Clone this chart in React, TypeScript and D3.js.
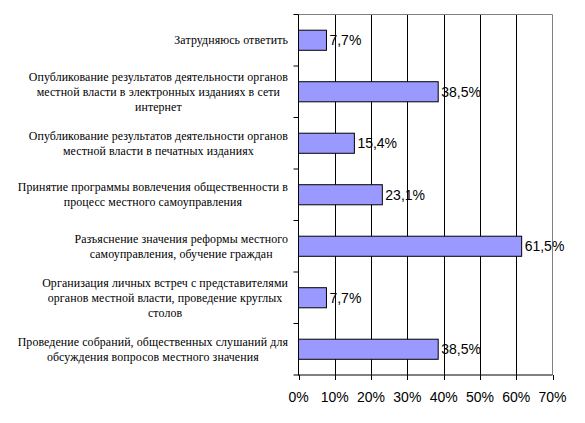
import React, { useEffect, useRef } from "react";
import * as d3 from "d3";

const categories: string[][] = [
  ["Затрудняюсь ответить"],
  ["Опубликование результатов деятельности органов", "местной власти в электронных изданиях в сети", "интернет"],
  ["Опубликование результатов деятельности органов", "местной власти в печатных изданиях"],
  ["Принятие программы вовлечения общественности в", "процесс местного самоуправления"],
  ["Разъяснение значения реформы местного", "самоуправления, обучение граждан"],
  ["Организация личных встреч с представителями", "органов местной власти, проведение круглых", "столов"],
  ["Проведение собраний, общественных слушаний для", "обсуждения вопросов местного значения"],
];
const values: number[] = [7.7, 38.5, 15.4, 23.1, 61.5, 7.7, 38.5];
const ticks: number[] = [0, 10, 20, 30, 40, 50, 60, 70];

const W = 585, H = 423;
const L = 298.5, R = 552.5, T = 14.5, B = 375;

export default function App() {
  const ref = useRef<SVGSVGElement>(null);
  useEffect(() => {
    const svg = d3.select(ref.current);
    svg.selectAll("*").remove();
    const x = d3.scaleLinear().domain([0, 70]).range([L, R]);
    const idx = categories.map((_, i) => i);
    const y = d3.scaleBand<number>().domain(idx).range([T, B]).paddingInner(0.61).paddingOuter(0.305);
    const step = y.step();

    svg.append("rect").attr("width", W).attr("height", H).attr("fill", "#fff");

    svg.selectAll("line.grid").data(ticks.filter(t => t > 0 && t < 70)).join("line")
      .attr("x1", d => Math.round(x(d)) + 0.5).attr("x2", d => Math.round(x(d)) + 0.5)
      .attr("y1", T).attr("y2", B).attr("stroke", "#000");
    svg.append("path").attr("d", `M${L},${T}H${R}V${B}`).attr("fill", "none").attr("stroke", "#808080");

    svg.selectAll("rect.bar").data(values).join("rect")
      .attr("x", x(0)).attr("y", (_, i) => y(i)!)
      .attr("width", d => x(d) - x(0)).attr("height", y.bandwidth())
      .attr("fill", "#9999FF").attr("stroke", "#000").attr("stroke-width", 1);

    svg.selectAll("text.val").data(values).join("text")
      .attr("x", d => x(d) + 3).attr("y", (_, i) => y(i)! + y.bandwidth() / 2)
      .attr("dy", "0.36em")
      .style("font-family", "'Liberation Sans', Arial, sans-serif").style("font-size", "14px")
      .text(d => d.toFixed(1).replace(".", ",") + "%");

    svg.append("line").attr("x1", L).attr("x2", L).attr("y1", T).attr("y2", B + 0.5).attr("stroke", "#000");
    svg.append("line").attr("x1", L).attr("x2", R).attr("y1", B).attr("y2", B).attr("stroke", "#000");
    d3.range(categories.length + 1).forEach(i => {
      const yy = T + i * step;
      svg.append("line").attr("x1", L - 5).attr("x2", L).attr("y1", yy).attr("y2", yy).attr("stroke", "#000");
    });
    ticks.forEach(t => {
      const xx = Math.round(x(t)) + 0.5;
      svg.append("line").attr("x1", xx).attr("x2", xx).attr("y1", B).attr("y2", B + 5).attr("stroke", "#000");
      svg.append("text").attr("x", x(t)).attr("y", 402).attr("text-anchor", "middle")
        .style("font-family", "'Liberation Sans', Arial, sans-serif").style("font-size", "14px")
        .text(t + "%");
    });

    const lh = 15;
    categories.forEach((lines, i) => {
      const cy = T + (i + 0.5) * step;
      const g = svg.append("g");
      const texts = lines.map((ln, j) =>
        g.append("text")
          .attr("y", cy + (j - (lines.length - 1) / 2) * lh)
          .attr("dy", "0.35em")
          .style("font-family", "'Liberation Serif', 'Times New Roman', serif")
          .style("font-size", "11.9px")
          .style("letter-spacing", "0.1px")
          .attr("text-anchor", "middle")
          .text(ln)
      );
      const maxW = d3.max(texts, t => (t.node() as SVGTextElement).getComputedTextLength()) || 0;
      const cx = 288 - maxW / 2;
      texts.forEach(t => t.attr("x", cx));
    });
  }, []);
  return (
    <svg ref={ref} width={W} height={H} style={{ position: "absolute", left: 0, top: 0 }} />
  );
}
